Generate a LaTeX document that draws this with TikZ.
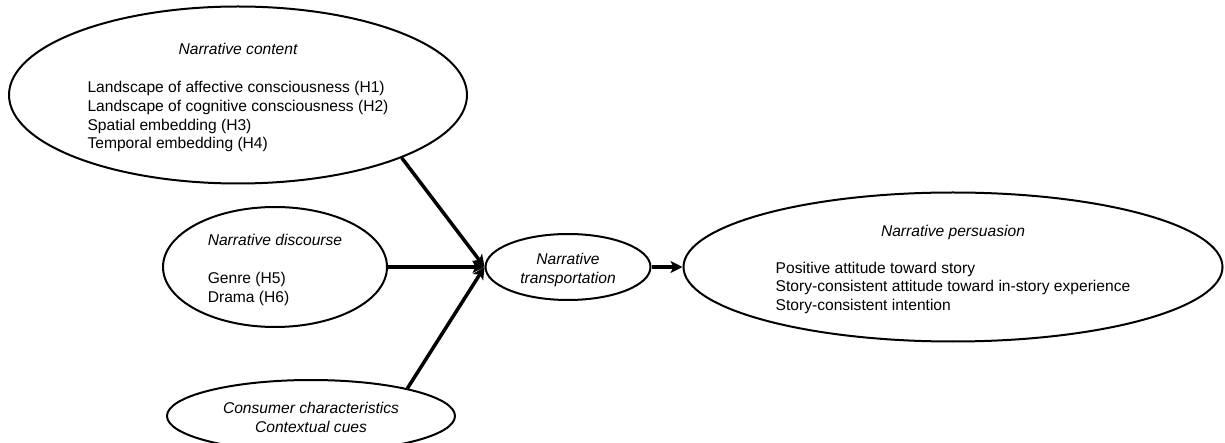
\documentclass[tikz,border=0pt]{standalone}
\usepackage{fontspec}
\setmainfont{Liberation Sans}
\usetikzlibrary{shapes.geometric,arrows.meta}

\tikzset{
  oval/.style={draw, ellipse, line width=2pt, inner sep=0pt, font=\fontsize{15.6}{18.7}\selectfont},
  link/.style={line width=3.5pt, -{Stealth[length=12pt,width=12pt,inset=3pt]}}
}
\newcommand{\up}{\rule{0pt}{19pt}}
\newcommand{\ttl}[1]{\multicolumn{1}{@{}c@{}}{\up\itshape #1}}

\begin{document}
\begin{tikzpicture}[x=1pt,y=-1pt]
            \useasboundingbox (0,0) rectangle (1225,443);
            % Ellipses
            \node[oval, minimum width=458pt, minimum height=177pt] (content) at (238,95)
              {\begin{tabular}{@{}l@{}}\ttl{Narrative content}\\[19.3pt]
               Landscape of affective consciousness (H1)\\
               Landscape of cognitive consciousness (H2)\\
               Spatial embedding (H3)\\
               Temporal embedding (H4)\end{tabular}};
            \node[oval, inner ysep=-8pt, minimum width=224pt, minimum height=120pt] (disc) at (275,267)
              {\begin{tabular}{@{}l@{}}\ttl{Narrative discourse}\\[19.3pt]
               Genre (H5)\\
               Drama (H6)\end{tabular}};
            \node[oval, minimum width=288pt, minimum height=72pt] (cons) at (311,416)
              {\begin{tabular}{@{}c@{}}\up\itshape Consumer characteristics\\
               \itshape Contextual cues\end{tabular}};
            \node[oval, minimum width=165pt, minimum height=66pt] (trans) at (568,267)
              {\begin{tabular}{@{}c@{}}\up\itshape Narrative\\
               \itshape transportation\end{tabular}};
            \node[oval, minimum width=539pt, minimum height=149pt] (pers) at (953,267)
              {\begin{tabular}{@{}l@{}}\ttl{Narrative persuasion}\\[17.5pt]
               Positive attitude toward story\\
               Story-consistent attitude toward in-story experience\\
               Story-consistent intention\end{tabular}};

            % Arrows
            \draw[link] (content.-21) -- (trans.west);
            \draw[link] (disc.east) -- (trans.west);
            \draw[link] (cons.16) -- (trans.west);
            \draw[link] (trans.east) -- (pers.west);
        \end{tikzpicture}
\end{document}
